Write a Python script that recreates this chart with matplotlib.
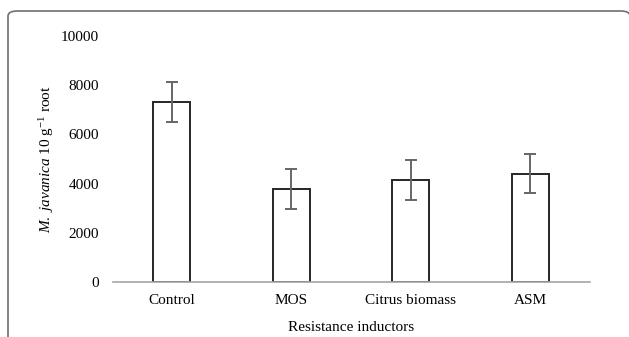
import matplotlib.pyplot as plt
from matplotlib.patches import FancyBboxPatch

# data
inductors = ["Control", "MOS", "Citrus biomass", "ASM"]
counts = [7320, 3770, 4150, 4400]
errors = [810, 810, 810, 800]
yticks = [0, 2000, 4000, 6000, 8000, 10000]

plt.rcParams['font.family'] = ['Liberation Serif', 'DejaVu Serif']
plt.rcParams['mathtext.fontset'] = 'custom'
plt.rcParams['mathtext.rm'] = 'Liberation Serif'
plt.rcParams['mathtext.it'] = 'Liberation Serif:italic'

fig = plt.figure(figsize=(6.29, 3.37), dpi=100)

# rounded frame around the figure panel (cut off at right and bottom)
frame = FancyBboxPatch((8 / 629, -0.1), 622 / 629, 1 - 11 / 337 + 0.1,
                       boxstyle="round,pad=0,rounding_size=0.015",
                       transform=fig.transFigure, facecolor='none',
                       edgecolor='#707070', linewidth=1.2, clip_on=False)
fig.patches.append(frame)

ax = fig.add_axes([113 / 629, 1 - 282 / 337, 477 / 629, 246 / 337])

x = range(len(inductors))
ax.bar(x, counts, width=0.31, color='white', edgecolor='#262626', linewidth=1.4, zorder=2)
ax.errorbar(x, counts, yerr=errors, fmt='none', ecolor='#666666',
            elinewidth=1.4, capsize=4, capthick=1.4, zorder=3)

ax.set_xlim(-0.49, 3.5)
ax.set_ylim(0, 10000)
ax.set_yticks(yticks)
ax.set_yticklabels([str(v) for v in yticks])
ax.set_xticks(list(x))
ax.set_xticklabels(inductors)
ax.tick_params(axis='both', length=0, labelsize=11, colors='black')
ax.tick_params(axis='y', pad=10)
ax.tick_params(axis='x', pad=9)

for s in ['top', 'right', 'left']:
    ax.spines[s].set_visible(False)
ax.spines['bottom'].set_color('#a6a6a6')
ax.spines['bottom'].set_linewidth(1.2)

ax.set_xlabel("Resistance inductors", fontsize=11, labelpad=10)
ax.set_ylabel(r"$\mathit{M.\ javanica}$ 10 g$^{\mathregular{-1}}$ root", fontsize=11)
ax.yaxis.set_label_coords(-0.12, 0.5)

fig.savefig("out.png", dpi=100)
